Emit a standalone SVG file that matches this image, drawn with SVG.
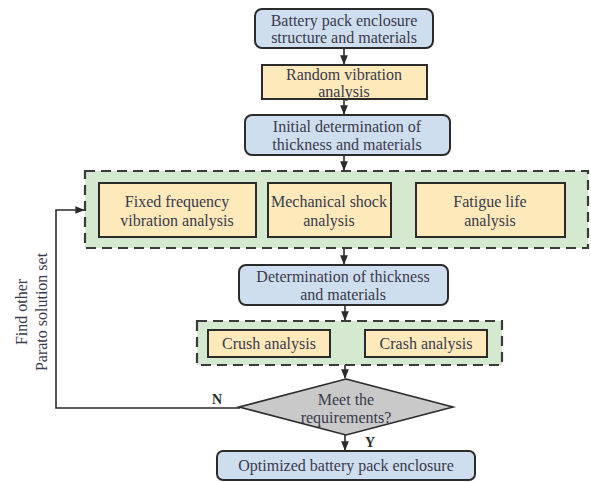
<svg xmlns="http://www.w3.org/2000/svg" width="591" height="482" viewBox="0 0 591 482">
<style>
text{font-family:"Liberation Serif","Times New Roman",serif;font-size:16px;fill:#3a3a4c;text-anchor:middle}
.blue{fill:#cfdeee;stroke:#2b2b2b;stroke-width:2}
.yel{fill:#fde9ba;stroke:#2b2b2b;stroke-width:2}
.grp{fill:#d5e8d0;stroke:#3a3a3a;stroke-width:2.2;stroke-dasharray:10,6}
.dia{fill:#c9c9c9;stroke:#2b2b2b;stroke-width:1.6}
.ln{fill:none;stroke:#2b2b2b;stroke-width:1.6}
.lbl{font-weight:bold;fill:#2b2b2b;font-size:14px}
</style>
<defs>
<marker id="ah" viewBox="0 0 10 10" refX="9" refY="5" markerWidth="6" markerHeight="6" orient="auto">
<path d="M0,1 L10,5 L0,9 Z" fill="#2b2b2b"/>
</marker>
</defs>
<g id="connectors">
<line class="ln" x1="344" y1="48" x2="344" y2="64" marker-end="url(#ah)"/>
<line class="ln" x1="344" y1="99" x2="344" y2="114" marker-end="url(#ah)"/>
<line class="ln" x1="344" y1="155" x2="344" y2="170" marker-end="url(#ah)"/>
<line class="ln" x1="344" y1="248" x2="344" y2="264" marker-end="url(#ah)"/>
<line class="ln" x1="345" y1="305" x2="345" y2="320" marker-end="url(#ah)"/>
<line class="ln" x1="345" y1="365" x2="345" y2="378" marker-end="url(#ah)"/>
<line class="ln" x1="345" y1="435" x2="345" y2="450" marker-end="url(#ah)"/>
<polyline class="ln" points="240,408 56,408 56,210 84,210" marker-end="url(#ah)"/>
<text class="lbl" x="217" y="404">N</text>
<text class="lbl" x="370" y="447">Y</text>
<text transform="translate(27,312) rotate(-90)">Find other</text>
<text transform="translate(47,312) rotate(-90)">Parato solution set</text>
</g>
<g id="n1"><rect class="blue" x="255" y="9" width="178" height="39" rx="7"/>
<text x="344" y="26">Battery pack enclosure</text><text x="344" y="43">structure and materials</text></g>
<g id="n2"><rect class="yel" x="262" y="65" width="165" height="34"/>
<text x="344" y="80">Random vibration</text><text x="344" y="97">analysis</text></g>
<g id="n3"><rect class="blue" x="245" y="115" width="205" height="40" rx="7"/>
<text x="347" y="132">Initial determination of</text><text x="347" y="150">thickness and materials</text></g>
<g id="g1"><rect class="grp" x="85" y="171" width="503" height="77"/>
<g id="n4"><rect class="yel" x="99" y="183" width="157" height="54"/>
<text x="177" y="207">Fixed frequency</text><text x="177" y="226">vibration analysis</text></g>
<g id="n5"><rect class="yel" x="268" y="183" width="123" height="54"/>
<text x="329" y="207">Mechanical shock</text><text x="329" y="226">analysis</text></g>
<g id="n6"><rect class="yel" x="416" y="183" width="149" height="54"/>
<text x="490" y="207">Fatigue life</text><text x="490" y="226">analysis</text></g>
</g>
<g id="n7"><rect class="blue" x="239" y="265" width="209" height="40" rx="7"/>
<text x="343" y="282">Determination of thickness</text><text x="343" y="300">and materials</text></g>
<g id="g2"><rect class="grp" x="197" y="321" width="305" height="44"/>
<g id="n8"><rect class="yel" x="208" y="330" width="122" height="27"/>
<text x="269" y="349">Crush analysis</text></g>
<g id="n9"><rect class="yel" x="365" y="330" width="122" height="27"/>
<text x="426" y="349">Crash analysis</text></g>
</g>
<g id="n10"><polygon class="dia" points="346,379 453,407 346,435 239,407"/>
<text x="346" y="405">Meet the</text><text x="346" y="423">requirements?</text></g>
<g id="n11"><rect class="blue" x="217" y="451" width="258" height="29" rx="6"/>
<text x="346" y="471">Optimized battery pack enclosure</text></g>
</svg>
